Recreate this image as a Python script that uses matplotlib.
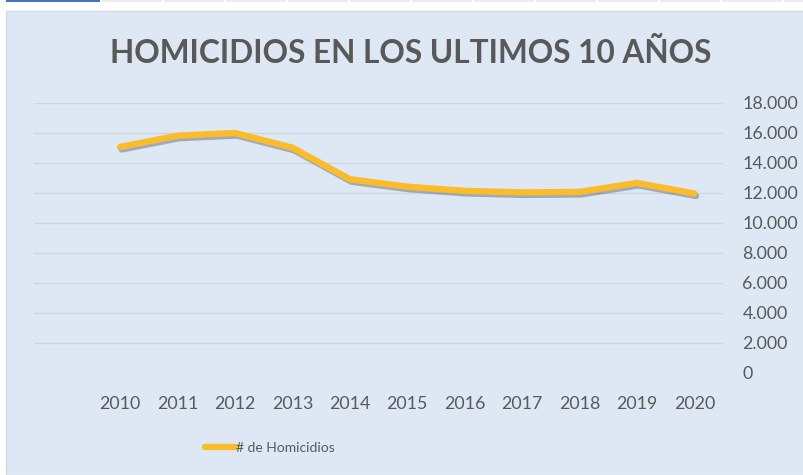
import matplotlib
matplotlib.use("Agg")
import matplotlib.pyplot as plt
import matplotlib.patheffects as pe
from matplotlib.patches import Rectangle
from matplotlib.lines import Line2D

years = [2010, 2011, 2012, 2013, 2014, 2015, 2016, 2017, 2018, 2019, 2020]
homicidios = [15050, 15800, 15980, 15000, 12900, 12400, 12120, 12020, 12050, 12650, 11950]
y_ticks = [0, 2000, 4000, 6000, 8000, 10000, 12000, 14000, 16000, 18000]
y_tick_labels = ["0", "2.000", "4.000", "6.000", "8.000", "10.000", "12.000", "14.000", "16.000", "18.000"]
title = "HOMICIDIOS EN LOS ULTIMOS 10 AÑOS"
series_name = "# de Homicidios"

W, H = 804, 475
fig = plt.figure(figsize=(W / 100, H / 100), dpi=100)
fig.patch.set_facecolor("white")
plt.rcParams['font.family'] = ['Lato', 'DejaVu Sans']

bg = "#dde8f4"
txt = "#595959"
line_color = "#fbbc2c"

# chart area box
fig.patches.append(Rectangle((6 / W, 0), (W - 6) / W, (H - 11) / H, transform=fig.transFigure,
                             facecolor=bg, edgecolor="#d4d9df", lw=1, zorder=0))
# top strip (screenshot artefact)
fig.patches.append(Rectangle((6 / W, (H - 2) / H), 94 / W, 2 / H, transform=fig.transFigure,
                             facecolor="#4472c4", edgecolor="none", zorder=1))
for x0 in range(102, 804, 62):
    fig.patches.append(Rectangle((x0 / W, (H - 2) / H), 60 / W, 2 / H, transform=fig.transFigure,
                                 facecolor="#ececec", edgecolor="none", zorder=1))

ax = fig.add_axes([34 / W, 102.3 / H, (723 - 34) / W, 270 / H])
ax.set_zorder(5)
ax.set_facecolor("none")
ax.plot(years, homicidios, color=line_color, lw=4.6, solid_capstyle="round", solid_joinstyle="round",
        path_effects=[pe.SimpleLineShadow(offset=(1.2, -1.8), shadow_color="#5f6e80", alpha=0.5),
                      pe.Normal()], zorder=3)
ax.set_xlim(2008.5, 2020.5)
ax.set_ylim(0, 18000)
ax.set_yticks(y_ticks)
ax.set_yticklabels(y_tick_labels)
ax.set_xticks(years)
ax.set_xticklabels([str(y) for y in years])
ax.yaxis.tick_right()
ax.tick_params(axis="y", length=0, pad=14, labelsize=12.8, labelcolor=txt)
ax.tick_params(axis="x", length=0, pad=17, labelsize=12.8, labelcolor=txt)
for s in ax.spines.values():
    s.set_visible(False)
ax.grid(axis="y", color="#cfd5dc", lw=1)
ax.set_axisbelow(True)

t = fig.text(411 / W, 1 - 53 / H, title, ha="center", va="center", fontsize=22.8,
             fontweight="bold", color=txt)
t.set_zorder(6)

handle = Line2D([], [], color=line_color, lw=4.6, solid_capstyle="round")
leg = fig.legend([handle], [series_name], loc="center", bbox_to_anchor=(270 / W, 1 - 448 / H),
                 frameon=False, fontsize=10, labelcolor=txt, handlelength=2.2, handletextpad=0.05)
leg.set_zorder(6)
for tt in leg.get_texts():
    tt.set_color(txt)

fig.savefig("out.png", dpi=100, facecolor=fig.get_facecolor())
